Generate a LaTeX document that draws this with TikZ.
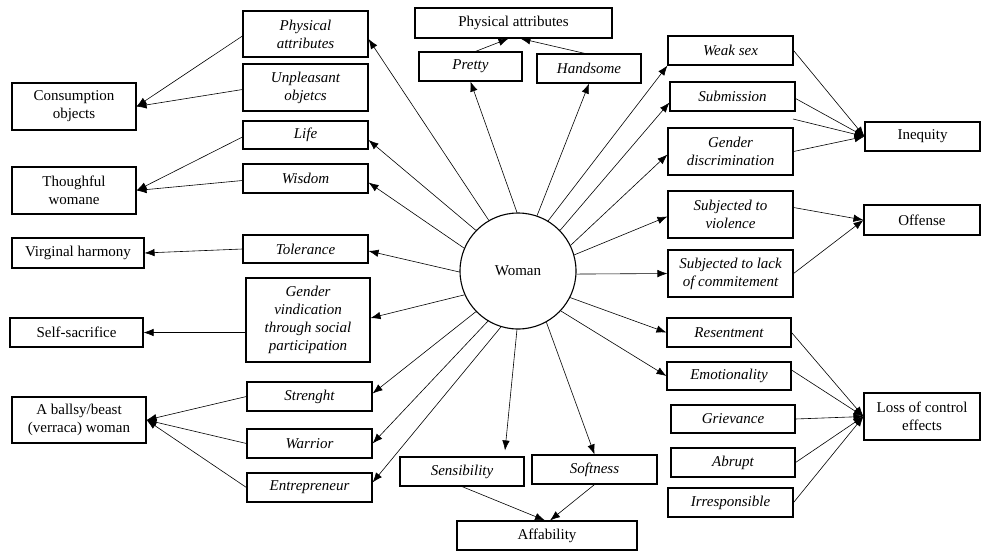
\documentclass[tikz,border=0pt]{standalone}
\usepackage{fontspec}
\setmainfont{Liberation Serif}
\usetikzlibrary{arrows.meta}
\begin{document}
\begin{tikzpicture}[x=1pt,y=-1pt,
 bx/.style={draw, line width=1.1pt, inner sep=1pt, align=center, font=\fontsize{15}{18}\selectfont},
 ib/.style={bx, font=\fontsize{15}{18}\selectfont\itshape},
 wh/.style 2 args={minimum width=#1, minimum height=#2},
 con/.style={line width=0.6pt, -{Latex[length=10pt,width=7.5pt]}}]
\useasboundingbox (0,0) rectangle (981,552);

% left outer
\node[bx, wh={124}{47}] (co) at (74,106.5) {Consumption\\objects};
\node[bx, wh={124}{47}] (th) at (74,190.5) {Thoughful\\womane};
\node[bx, wh={132}{30}] (vh) at (78,253) {Virginal harmony};
\node[bx, wh={133}{29}] (ss) at (76.5,332.5) {Self-sacrifice};
\node[bx, wh={134}{46}] (bw) at (79,420) {A ballsy/beast\\(verraca) woman};

% left inner
\node[ib, wh={125}{46}] (pa) at (305.5,34) {Physical\\attributes};
\node[ib, wh={125}{47}] (un) at (305.5,87.5) {Unpleasant\\objetcs};
\node[ib, wh={125}{28}] (life) at (305.5,135) {Life};
\node[ib, wh={125}{29}] (wis) at (305.5,178.5) {Wisdom};
\node[ib, wh={125}{28}] (tol) at (305.5,249) {Tolerance};
\node[ib, wh={124}{84}] (gv) at (308,320) {Gender\\vindication\\through social\\participation};
\node[ib, wh={125}{29}] (str) at (309.5,396.5) {Strenght};
\node[ib, wh={125}{29}] (war) at (309.5,443.5) {Warrior};
\node[ib, wh={125}{29}] (ent) at (309.5,487.5) {Entrepreneur};

% top
\node[bx, wh={197}{30}] (phys) at (513.5,23) {Physical attributes};
\node[ib, wh={103}{29}] (pre) at (470.5,66.5) {Pretty};
\node[ib, wh={104}{29}] (han) at (589,68.5) {Handsome};

% right inner
\node[ib, wh={125}{29}] (ws) at (730.5,50.5) {Weak sex};
\node[ib, wh={125}{29}] (sub) at (732.5,96.5) {Submission};
\node[ib, wh={125}{47}] (gd) at (730.5,151.5) {Gender\\discrimination};
\node[ib, wh={125}{47}] (sv) at (730.5,214.5) {Subjected to\\violence};
\node[ib, wh={125}{47}] (sl) at (730.5,273.5) {Subjected to lack\\of commitement};
\node[ib, wh={124}{29}] (res) at (729,332.5) {Resentment};
\node[ib, wh={124}{28}] (emo) at (729,376) {Emotionality};
\node[ib, wh={124}{28}] (gri) at (733,419) {Grievance};
\node[ib, wh={124}{29}] (abr) at (733,462.5) {Abrupt};
\node[ib, wh={125}{29}] (irr) at (730.5,502.5) {Irresponsible};

% right outer
\node[bx, wh={115}{29}] (iq) at (922.5,136.5) {Inequity};
\node[bx, wh={116}{30}] (of) at (922,220) {Offense};
\node[bx, wh={116}{47}] (lc) at (922,416.5) {Loss of control\\effects};

% bottom
\node[ib, wh={124}{29}] (sen) at (462,471.5) {Sensibility};
\node[ib, wh={125}{29}] (soft) at (594.5,469.5) {Softness};
\node[bx, wh={180}{29}] (aff) at (547,535.5) {Affability};

% centre
\node[circle, draw, line width=1.1pt, minimum size=116, inner sep=0pt,
      font=\fontsize{15}{18}\selectfont] (woman) at (518,271) {Woman};

\coordinate (fq) at (793,119);

% from Woman
\draw[con] (woman.120) -- ([yshift=-5]pa.east);
\draw[con] (woman.136) -- ([yshift=-5]life.east);
\draw[con] (woman.157) -- ([yshift=-4]wis.east);
\draw[con] (woman.181) -- ([yshift=-2]tol.east);
\draw[con] (woman.204) -- ([yshift=2]gv.east);
\draw[con] (woman.-136) -- ([yshift=3]str.east);
\draw[con] (woman.-121) -- (war.east);
\draw[con] (woman.-107) -- ([yshift=5]ent.east);
\draw[con] (woman.91) -- (pre.south);
\draw[con] (woman.71) -- (han.south);
\draw[con] (woman.59) -- (ws.south west);
\draw[con] (woman.44) -- ([yshift=-6]sub.west);
\draw[con] (woman.26) -- ([yshift=-3]gd.west);
\draw[con] (woman.16) -- ([yshift=-2]sv.west);
\draw[con] (woman.-3) -- (sl.west);
\draw[con] (woman.-27) -- (res.west);
\draw[con] (woman.-43) -- (emo.west);
\draw[con] (woman.-61) -- (soft.north);
\draw[con] (woman.-91) -- ([xshift=43,yshift=6]sen.north);

% top
\draw[con] ([xshift=5]pre.north) -- ([xshift=-5]phys.south);
\draw[con] ([xshift=-4]han.north) -- ([xshift=7]phys.south);

% bottom
\draw[con] (sen.south) -- ([xshift=-2]aff.north);
\draw[con] (soft.south) -- ([xshift=3]aff.north);

% left convergence
\draw[con] ([yshift=-2]pa.west) -- (co.east);
\draw[con] ([yshift=-2]un.west) -- (co.east);
\draw[con] ([yshift=-2]life.west) -- (th.east);
\draw[con] ([yshift=-2]wis.west) -- (th.east);
\draw[con] (tol.west) -- (vh.east);
\draw[con] (gv.west |- ss.east) -- (ss.east);
\draw[con] (str.west) -- (bw.east);
\draw[con] (war.west) -- (bw.east);
\draw[con] (ent.west) -- (bw.east);

% right convergence
\draw[con] (ws.east) -- (iq.west);
\draw[con] ([yshift=-2]sub.east) -- (iq.west);
\draw[con] (fq) -- (iq.west);
\draw[con] (gd.east) -- (iq.west);
\draw[con] ([yshift=7]sv.east) -- (of.west);
\draw[con] (sl.east) -- (of.west);
\draw[con] (res.east) -- (lc.west);
\draw[con] ([yshift=6]emo.east) -- (lc.west);
\draw[con] (gri.east) -- (lc.west);
\draw[con] (abr.east) -- (lc.west);
\draw[con] (irr.east) -- (lc.west);
\end{tikzpicture}
\end{document}
